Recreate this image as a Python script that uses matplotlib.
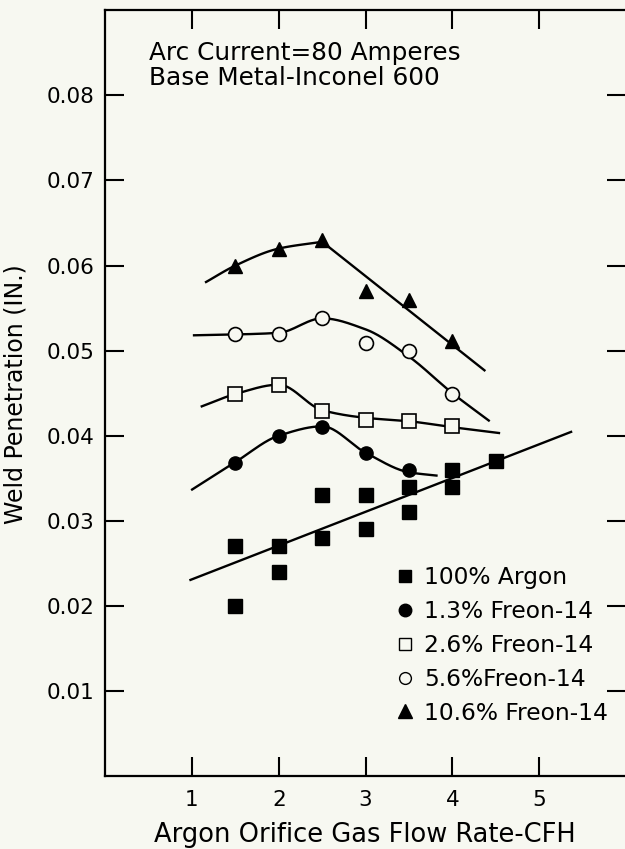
import numpy as np
import matplotlib
matplotlib.use("Agg")
import matplotlib.pyplot as plt
from matplotlib.lines import Line2D

# measured points (flow rate CFH, penetration in.)
argon_x = [1.5, 1.5, 2.0, 2.0, 2.5, 2.5, 3.0, 3.0, 3.5, 3.5, 4.0, 4.0, 4.5]
argon_y = [0.027, 0.020, 0.027, 0.024, 0.033, 0.028, 0.033, 0.029, 0.034, 0.031, 0.036, 0.034, 0.037]

f13_x = [1.5, 2.0, 2.5, 3.0, 3.5]
f13_y = [0.0368, 0.0400, 0.0410, 0.0380, 0.0360]

f26_x = [1.5, 2.0, 2.5, 3.0, 3.5, 4.0]
f26_y = [0.0449, 0.0460, 0.0429, 0.0419, 0.0417, 0.0411]

f56_x = [1.5, 2.0, 2.5, 3.0, 3.5, 4.0]
f56_y = [0.0520, 0.0520, 0.0538, 0.0509, 0.0499, 0.0449]

f106_x = [1.5, 2.0, 2.5, 3.0, 3.5, 4.0]
f106_y = [0.0600, 0.0620, 0.0630, 0.0570, 0.0559, 0.0511]

# hand-drawn fit curves, knots
fit_argon_x = [0.97, 5.38]
fit_argon_y = [0.0230, 0.0405]
fit13_x = [0.99, 1.5, 2.0, 2.5, 3.0, 3.5, 3.83]
fit13_y = [0.0336, 0.0369, 0.0400, 0.0411, 0.0380, 0.0357, 0.0353]
fit26_x = [1.1, 1.5, 2.0, 2.5, 3.0, 3.5, 4.0, 4.55]
fit26_y = [0.0434, 0.0449, 0.0460, 0.0430, 0.0421, 0.0417, 0.0410, 0.0403]
fit56_x = [1.01, 1.5, 2.0, 2.5, 3.0, 3.5, 4.0, 4.43]
fit56_y = [0.0518, 0.0519, 0.0521, 0.0538, 0.0525, 0.0493, 0.0450, 0.0417]
fit106_curve_x = [1.15, 1.5, 2.0, 2.5]
fit106_curve_y = [0.0580, 0.0600, 0.0620, 0.0628]
fit106_line_x = [2.5, 4.38]
fit106_line_y = [0.0628, 0.0476]

labels = ["100% Argon", "1.3% Freon-14", "2.6% Freon-14", "5.6%Freon-14", "10.6% Freon-14"]

bg = "#f7f8f1"


def smooth(xs, ys, n=40):
    # pchip style hermite through the knots
    x = np.asarray(xs, float)
    y = np.asarray(ys, float)
    if len(x) < 3:
        return x, y
    h = np.diff(x)
    d = np.diff(y) / h
    m = np.zeros_like(y)
    m[0], m[-1] = d[0], d[-1]
    for k in range(1, len(x) - 1):
        if d[k - 1] * d[k] > 0:
            w1 = 2 * h[k] + h[k - 1]
            w2 = h[k] + 2 * h[k - 1]
            m[k] = (w1 + w2) / (w1 / d[k - 1] + w2 / d[k])
    ox, oy = [], []
    t = np.linspace(0, 1, n)
    for k in range(len(x) - 1):
        h00 = 2 * t ** 3 - 3 * t ** 2 + 1
        h10 = t ** 3 - 2 * t ** 2 + t
        h01 = -2 * t ** 3 + 3 * t ** 2
        h11 = t ** 3 - t ** 2
        ox.append(x[k] + t * h[k])
        oy.append(h00 * y[k] + h10 * h[k] * m[k] + h01 * y[k + 1] + h11 * h[k] * m[k + 1])
    return np.concatenate(ox), np.concatenate(oy)


plt.rcParams['font.family'] = ['DejaVu Sans']
fig = plt.figure(figsize=(6.25, 8.49), dpi=100, facecolor=bg)
ax = fig.add_axes([0.1683, 0.0860, 0.8333, 0.9018], facecolor=bg)

lw = 1.7
for fx, fy in [(fit_argon_x, fit_argon_y), (fit13_x, fit13_y), (fit26_x, fit26_y),
               (fit56_x, fit56_y), (fit106_curve_x, fit106_curve_y), (fit106_line_x, fit106_line_y)]:
    sx, sy = smooth(fx, fy)
    ax.plot(sx, sy, color="black", lw=lw, solid_capstyle="butt", zorder=2)

ax.plot(argon_x, argon_y, ls="none", marker="s", ms=9.5, mfc="black", mec="black", zorder=3)
ax.plot(f13_x, f13_y, ls="none", marker="o", ms=9.5, mfc="black", mec="black", zorder=3)
ax.plot(f26_x, f26_y, ls="none", marker="s", ms=10, mfc=bg, mec="black", mew=1.2, zorder=3)
ax.plot(f56_x, f56_y, ls="none", marker="o", ms=10, mfc=bg, mec="black", mew=1.2, zorder=3)
ax.plot(f106_x, f106_y, ls="none", marker="^", ms=10.5, mfc="black", mec="black", zorder=3)

handles = [
    Line2D([], [], ls="none", marker="s", ms=9, mfc="black", mec="black"),
    Line2D([], [], ls="none", marker="o", ms=9, mfc="black", mec="black"),
    Line2D([], [], ls="none", marker="s", ms=8.5, mfc=bg, mec="black", mew=1.0),
    Line2D([], [], ls="none", marker="o", ms=8.5, mfc=bg, mec="black", mew=1.0),
    Line2D([], [], ls="none", marker="^", ms=10, mfc="black", mec="black"),
]
ax.legend(handles, labels, loc="upper left", bbox_to_anchor=(0.5565, 0.274),
          frameon=False, fontsize=16.8, handlelength=0.85, handletextpad=0.41,
          labelspacing=0.465, borderpad=0, borderaxespad=0)

ax.text(0.51, 0.0850, "Arc Current=80 Amperes", fontsize=17.8, va="center", ha="left")
ax.text(0.51, 0.0821, "Base Metal-Inconel 600", fontsize=17.8, va="center", ha="left")

ax.set_xlim(0, 6)
ax.set_ylim(0, 0.09)
ax.set_xticks([1, 2, 3, 4, 5])
ax.set_yticks([0.01, 0.02, 0.03, 0.04, 0.05, 0.06, 0.07, 0.08])
ax.set_yticklabels(["0.01", "0.02", "0.03", "0.04", "0.05", "0.06", "0.07", "0.08"])
ax.tick_params(direction="in", length=14, width=1.5, labelsize=15.5,
               top=True, right=True, pad=8)
ax.tick_params(axis="x", pad=10)
for s in ax.spines.values():
    s.set_linewidth(1.6)
ax.spines["right"].set_visible(False)

fig.text(365 / 625, 1 - 835 / 849, "Argon Orifice Gas Flow Rate-CFH", fontsize=18.5,
         ha="center", va="center")
fig.text(16 / 625, 1 - 394 / 849, "Weld Penetration (IN.)", fontsize=17,
         rotation=90, ha="center", va="center")

fig.savefig("out.png", dpi=100, facecolor=bg)
